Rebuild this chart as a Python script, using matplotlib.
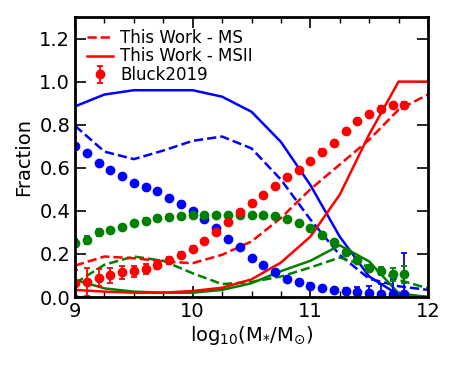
import numpy as np
import matplotlib
matplotlib.use("Agg")
import matplotlib.pyplot as plt
from matplotlib.ticker import MultipleLocator

# Model grid
x_model = [9.0, 9.25, 9.5, 9.75, 10.0, 10.25, 10.5, 10.75, 11.0, 11.25, 11.5, 11.75, 12.0]
blue_ms = [0.795, 0.675, 0.64, 0.68, 0.725, 0.745, 0.69, 0.545, 0.36, 0.195, 0.085, 0.05, 0.033]
blue_msii = [0.885, 0.94, 0.96, 0.96, 0.96, 0.93, 0.86, 0.72, 0.52, 0.28, 0.095, 0.01, 0.0]
red_ms = [0.146, 0.188, 0.18, 0.165, 0.157, 0.196, 0.258, 0.367, 0.5, 0.615, 0.73, 0.87, 0.94]
red_msii = [0.033, 0.025, 0.02, 0.02, 0.028, 0.043, 0.082, 0.16, 0.28, 0.475, 0.755, 1.0, 1.0]
green_ms = [0.064, 0.15, 0.188, 0.168, 0.11, 0.06, 0.07, 0.095, 0.137, 0.183, 0.14, 0.08, 0.04]
green_msii = [0.08, 0.04, 0.025, 0.02, 0.02, 0.033, 0.064, 0.12, 0.168, 0.24, 0.165, 0.017, 0.0]

# Bluck2019 observations
x_obs = [9.0, 9.1, 9.2, 9.3, 9.4, 9.5, 9.6, 9.7, 9.8, 9.9, 10.0, 10.1, 10.2, 10.3, 10.4,
         10.5, 10.6, 10.7, 10.8, 10.9, 11.0, 11.1, 11.2, 11.3, 11.4, 11.5, 11.6, 11.7, 11.8]
blue_obs = [0.70, 0.67, 0.62, 0.59, 0.56, 0.53, 0.51, 0.49, 0.46, 0.43, 0.40, 0.36, 0.32, 0.27, 0.23,
            0.18, 0.15, 0.115, 0.085, 0.07, 0.053, 0.04, 0.033, 0.027, 0.025, 0.02, 0.015, 0.013, 0.013]
blue_err = [0.01, 0.01, 0.01, 0.01, 0.01, 0.01, 0.01, 0.01, 0.01, 0.01, 0.01, 0.01, 0.01, 0.01, 0.01,
            0.01, 0.01, 0.01, 0.01, 0.01, 0.01, 0.01, 0.01, 0.015, 0.02, 0.03, 0.045, 0.07, 0.19]
red_obs = [0.065, 0.07, 0.09, 0.10, 0.115, 0.12, 0.13, 0.15, 0.17, 0.195, 0.225, 0.26, 0.30, 0.35, 0.395,
           0.435, 0.475, 0.515, 0.555, 0.59, 0.63, 0.675, 0.715, 0.77, 0.815, 0.85, 0.875, 0.89, 0.89]
red_err = [0.06, 0.065, 0.04, 0.035, 0.03, 0.025, 0.022, 0.02, 0.015, 0.012, 0.01, 0.01, 0.01, 0.01, 0.01,
           0.01, 0.01, 0.01, 0.01, 0.01, 0.01, 0.01, 0.01, 0.01, 0.01, 0.01, 0.01, 0.01, 0.015]
green_obs = [0.25, 0.265, 0.30, 0.31, 0.325, 0.345, 0.355, 0.365, 0.37, 0.375, 0.38, 0.38, 0.38, 0.38, 0.38,
             0.38, 0.38, 0.375, 0.36, 0.345, 0.32, 0.29, 0.255, 0.21, 0.17, 0.135, 0.12, 0.105, 0.105]
green_err = [0.02, 0.02, 0.015, 0.012, 0.01, 0.01, 0.01, 0.01, 0.01, 0.01, 0.01, 0.01, 0.01, 0.01, 0.01,
             0.01, 0.01, 0.01, 0.01, 0.01, 0.01, 0.01, 0.01, 0.01, 0.012, 0.015, 0.02, 0.03, 0.04]

fig = plt.figure(figsize=(4.58, 3.66), dpi=100)
ax = fig.add_axes([0.1638, 0.1885, 0.7707, 0.7651])

lw = 1.8
ax.plot(x_model, blue_ms, '--', color='blue', lw=lw)
ax.plot(x_model, blue_msii, '-', color='blue', lw=lw)
ax.plot(x_model, green_ms, '--', color='green', lw=lw)
ax.plot(x_model, green_msii, '-', color='green', lw=lw)
l1, = ax.plot(x_model, red_ms, '--', color='red', lw=lw, label='This Work - MS')
l2, = ax.plot(x_model, red_msii, '-', color='red', lw=lw, label='This Work - MSII')

ms = 6
ax.errorbar(x_obs, blue_obs, yerr=blue_err, fmt='o', color='blue', ms=ms, capsize=2.5, elinewidth=1.3, capthick=1.3)
ax.errorbar(x_obs, green_obs, yerr=green_err, fmt='o', color='green', ms=ms, capsize=2.5, elinewidth=1.3, capthick=1.3)
e3 = ax.errorbar(x_obs, red_obs, yerr=red_err, fmt='o', color='red', ms=ms, capsize=2.5, elinewidth=1.3, capthick=1.3, label='Bluck2019')

ax.set_xlim(9, 12)
ax.set_ylim(0, 1.3)
ax.xaxis.set_major_locator(MultipleLocator(1))
ax.xaxis.set_minor_locator(MultipleLocator(0.25))
ax.yaxis.set_major_locator(MultipleLocator(0.2))
ax.tick_params(which='both', direction='in', top=True, right=True, labelsize=14)
ax.tick_params(which='major', length=8, width=1.2)
ax.tick_params(which='minor', length=4, width=1)
for s in ax.spines.values():
    s.set_linewidth(2)

ax.set_xlabel(r'$\mathregular{log_{10}(M_{*}/M_{\odot})}$', fontsize=14, labelpad=2)
ax.set_ylabel('Fraction', fontsize=14)

ax.legend(handles=[l1, l2, e3], loc='upper left', frameon=False, fontsize=12,
          handlelength=1.6, labelspacing=0.05, borderaxespad=0.3, handletextpad=0.4)

fig.savefig('out.png', dpi=100)
